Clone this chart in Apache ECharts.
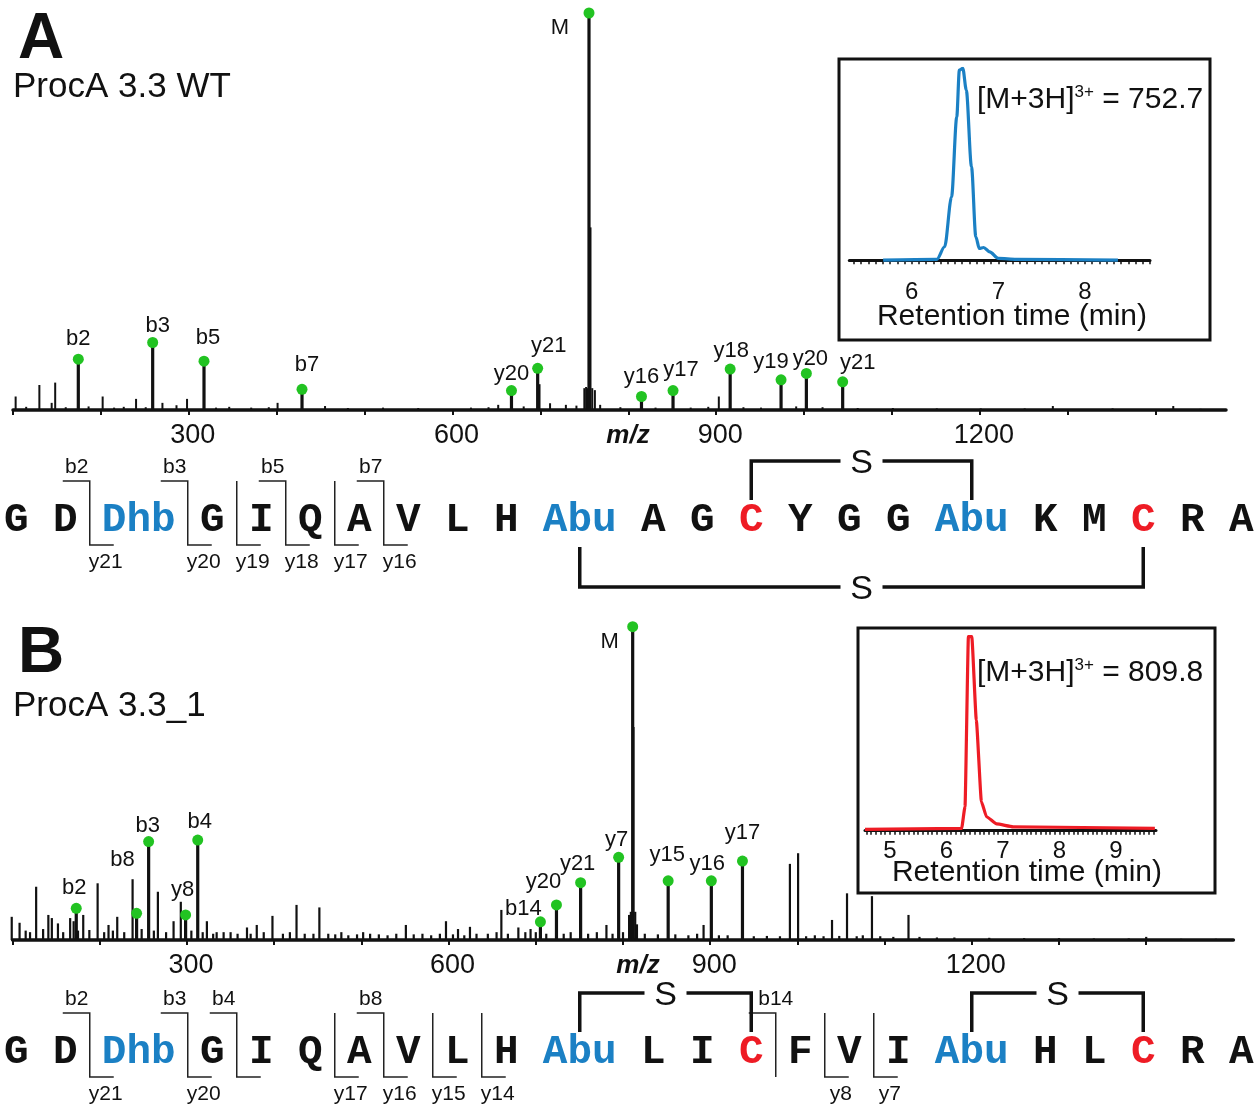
<!DOCTYPE html>
<html><head><meta charset="utf-8">
<script src="https://cdn.jsdelivr.net/npm/echarts@6/dist/echarts.min.js"></script>
<style>html,body{margin:0;padding:0;background:#fff}#c{width:1260px;height:1112px}</style>
</head><body><div id="c"></div>
<script>
// ================= DATA =================
const mzTickValues = [100,200,300,400,500,600,700,800,900,1000,1100,1200,1300,1400];
const mzTickLabels = [300,600,900,1200];

// Panel A (ProcA 3.3 WT) annotated peaks
const peakLabelsA = ['b2','b3','b5','b7','y20','y21','M','y16','y17','y18','y19','y20','y21'];
const peakMzA     = [174.3,258.9,317.3,428.8,667.1,696.9,755.3,815.0,850.9,915.9,973.8,1002.6,1043.9];
const peakIntA    = [12.8,17.0,12.3,5.2,4.9,10.5,100,3.4,4.9,10.3,7.6,9.2,7.1];
// Panel A other (unlabelled) peaks [m/z, relative intensity]
const minorPeaksA = [[103,3.4],[115,0.8],[130,6.3],[144,1.8],[148,6.9],[160,0.7],[186,0.9],[202,3.4],[215,0.6],
  [226,0.8],[240,2.8],[251,0.7],[270,1.8],[286,1.2],[298,2.8],[331,0.6],[346,0.8],[371,0.6],[391,0.7],[401,1.8],
  [455,1.0],[481,0.5],[521,0.6],[561,0.5],[621,0.6],[641,0.7],[652,1.3],[681,0.9],[699,6.5],[711,1.7],[729,1.3],[741,1.1],
  [750,5.5],[752,5.8],[754,5.5],[757,46],[759,5.5],[762,5.0],[768,1.3],[791,0.7],[831,0.6],[871,0.6],[891,0.8],
  [903,3.4],[931,0.7],[951,0.6],[991,0.9],[1021,0.7],[1061,0.5],[1101,0.5],[1151,0.4],[1201,0.4],[1251,0.4],
  [1283,1.0],[1351,0.4],[1420,1.0],[1451,0.3]];

// Panel B (ProcA 3.3_1) annotated peaks
const peakLabelsB = ['b2','b8','b3','y8','b4','b14','y20','y21','y7','M','y15','y16','y17'];
const peakMzB     = [173,242.2,256,298.4,312.3,705.3,723.7,751.4,795,811.1,851.8,901.3,937];
const peakIntB    = [10.1,8.5,31.4,8.0,31.9,5.8,11.2,18.3,26.4,100,18.9,18.9,25.2];
const minorPeaksB = [[99,7.4],[108,5.5],[115,3],[120,2.5],[127,17],[135,3.5],[141,8],[145,7],[152,5.3],[158,2.5],
  [166,7],[170,6],[175,3],[181,8],[188,3.2],[197.5,18.1],[205,2.5],[210,4.8],[215,3],[220,7.4],[228,2.5],[237.6,19.4],
  [248,3.5],[262,3],[266.6,15.4],[276,2.5],[284.6,6],[292.9,12.2],[305,3],[318,2.5],[322.8,6],[330,2],[334,2.5],[342,2.5],
  [350,2.5],[358,2],[368.8,4],[373,2],[380,4.8],[388,2.5],[398,7.7],[410,2],[418,2.5],[425.6,11.2],[435,2],[445,2],
  [451.8,10.4],[462,2],[470,1.8],[477,2.5],[485,1.5],[495,1.8],[502,2.5],[510,2],[520,1.8],[530,1.5],[540,2],[551,4.8],
  [560,1.8],[570,2],[580,1.5],[590,2],[597,6],[605,1.8],[610.8,3.5],[618,1.5],[624.5,4.2],[632,2],[645,2],[655,2.5],
  [660.5,9.6],[668,2],[680,4],[688,2.5],[694,3.5],[700,2.5],[712,2],[732,2],[740,2.5],[760,2],[770,2.5],[781,4.8],
  [788,2],[800,2.5],[807,8],[809,9],[812,68],[814,9],[816,5],[825,2],[840,1.8],[860,1.8],[875,1.5],[885,2],[892.4,4.8],
  [910,1.5],[920,1.5],[950,1.2],[965,1.3],[980,1.2],[991.4,24.3],[1000.8,27.7],[1010,1.2],[1020,1.5],[1030,1.2],
  [1039.7,6.4],[1048,1.3],[1056.9,14.9],[1068,1.2],[1075,1.5],[1085.5,14],[1095,1.2],[1110,1],[1127.4,8],[1140,1],
  [1160,0.8],[1180,0.8],[1220,0.7],[1260,0.6],[1300,0.6],[1340,0.5],[1380,0.5],[1400,1.0],[1440,0.4],[1480,0.4]];

// Insets: extracted ion chromatograms
const rtA = [5.67,6.29,6.38,6.46,6.52,6.55,6.59,6.63,6.69,6.74,6.78,6.83,6.90,7.00,7.21,8.38];
const eicA = [0,0.4,7,33,74.7,99,100,88.7,48.7,12.2,6.1,6.6,4.3,0.9,0.4,0];
const rtTickLabelsA = [6,7,8];
const rtB = [4.56,6.27,6.33,6.39,6.45,6.53,6.62,6.71,6.89,7.18,9.69];
const eicB = [0.7,1.2,12.4,100,100,57,15,7.2,3.5,2,1.2];
const rtTickLabelsB = [5,6,7,8,9];
const ionA = '752.7', ionB = '809.8';

// Peptide sequences and fragment annotations
const seqA = ['G','D','Dhb','G','I','Q','A','V','L','H','Abu','A','G','C','Y','G','G','Abu','K','M','C','R','A'];
const seqB = ['G','D','Dhb','G','I','Q','A','V','L','H','Abu','L','I','C','F','V','I','Abu','H','L','C','R','A'];
const fragsA = [{after:2,b:'b2',y:'y21'},{after:3,b:'b3',y:'y20'},{after:4,y:'y19'},{after:5,b:'b5',y:'y18'},
  {after:6,y:'y17'},{after:7,b:'b7',y:'y16'}];
const fragsB = [{after:2,b:'b2',y:'y21'},{after:3,b:'b3',y:'y20'},{after:4,b:'b4',y:'',arm:true},{after:6,y:'y17'},
  {after:7,b:'b8',y:'y16'},{after:8,y:'y15'},{after:9,y:'y14'},{after:14,b:'b14',noArm:true},{after:15,y:'y8'},{after:16,y:'y7'}];
const bridgesA = [{from:14,to:18,side:'top'},{from:11,to:21,side:'bottom'}];
const bridgesB = [{from:11,to:14,side:'top'},{from:18,to:21,side:'top'}];

// ================= STYLE / LAYOUT =================
const SANS = 'Liberation Sans', MONO = 'Liberation Mono';
const labelOffA = [[0,-20],[5,-17],[4,-23],[5,-24],[0,-17],[11,-22],[-29,15],[0,-20],[8,-21],[1,-18],[-10,-18],[4,-15],[15,-19]];
const labelOffB = [[-2,-20],[-14,-53],[-1,-16],[-3,-25],[2,-18],[-17,-13],[-13,-23],[-3,-19],[-2,-17],[-23,15],[-1,-26],[-4,-17],[0,-28]];
const bLabelShift = {b14: 0};
const X0 = 4, CW = 24.5, ROW_A = 521, ROW_B = 1053;
const GREEN = '#22c322', BLUE = '#1b80c4', RED = '#ee1c25';

const chart = echarts.init(document.getElementById('c'), null, {renderer:'canvas'});

function stickSeries(ax, pairs, width, z) {
  return {
    type:'custom', xAxisIndex:ax, yAxisIndex:ax, data:pairs, silent:true, z:z||2,
    renderItem:function(params, api){
      const p0 = api.coord([api.value(0), 0]);
      const p1 = api.coord([api.value(0), api.value(1)]);
      return {type:'line', shape:{x1:p0[0],y1:p0[1],x2:p1[0],y2:p1[1]}, style:{stroke:'#111', lineWidth:width}};
    }
  };
}
function dotSeries(ax, mz, inten, labels, offs) {
  return {
    type:'scatter', xAxisIndex:ax, yAxisIndex:ax, symbolSize:11, z:6, silent:true,
    itemStyle:{color:GREEN, opacity:1},
    data: mz.map((m,i)=>({value:[m, inten[i]], name:labels[i], label:{offset:offs[i]}})),
    label:{show:true, position:'inside', formatter:'{b}', fontSize:22, fontFamily:SANS, color:'#111',
      textBorderWidth:0, textBorderColor:'transparent', textShadowBlur:0}
  };
}
function mzAxis(gi, max) {
  return {gridIndex:gi, type:'value', min:100, max:max, splitLine:{show:false},
    axisLine:{lineStyle:{color:'#111', width:3.5}},
    axisTick:{show:true, customValues:mzTickValues, length:5, lineStyle:{color:'#111', width:2}},
    axisLabel:{customValues:mzTickLabels, formatter:v=>String(v), fontSize:27, fontFamily:SANS, color:'#111', margin:12,
      padding:[0,0,0,8]}};
}
function rtTicks(min, max) { const t=[]; for (let k=Math.ceil(min*12); k<=Math.floor(max*12); k++) t.push(k/12); return t; }
function rtAxis(gi, min, max, labels) {
  return {gridIndex:gi, type:'value', min:min, max:max, z:20, splitLine:{show:false},
    axisLine:{lineStyle:{color:'#111', width:3}},
    axisTick:{show:true, customValues:rtTicks(min,max), length:4, lineStyle:{color:'#111', width:1.5}},
    axisLabel:{customValues:labels, formatter:v=>String(v), fontSize:24, fontFamily:SANS, color:'#111', margin:9}};
}
function hiddenY(gi, min, max) { return {gridIndex:gi, type:'value', min:min, max:max, show:false}; }

// graphics
const G = [];
function txt(x, y, text, font, fill, align) {
  G.push({type:'text', x:x, y:y, z:30, silent:true, style:{text:text, font:font, fill:fill||'#111',
    textAlign:align||'center', align:align||'center', textVerticalAlign:'middle', verticalAlign:'middle'}});
}
function poly(points, w, color) {
  G.push({type:'polyline', z:30, silent:true, shape:{points:points}, style:{stroke:color||'#111', lineWidth:w, fill:null}});
}
function resColor(r) { return (r==='Dhb'||r==='Abu') ? BLUE : (r==='C' ? RED : '#111'); }
function drawRow(seq, c, frags, bridges) {
  const starts = []; let s = 0;
  seq.forEach(r => { starts.push(s); s += r.length + 1; });
  const cx = i => X0 + (starts[i] + seq[i].length/2) * CW;
  seq.forEach((r,i) => txt(cx(i), c, r, 'bold 41px ' + MONO, resColor(r)));
  frags.forEach(f => {
    const k = f.after - 1;
    const v = X0 + (starts[k] + seq[k].length + 0.5) * CW;
    const top = c - 40, bot = c + 24;
    const pts = [];
    if (f.b) pts.push([v-27, top]);
    pts.push([v, top]); pts.push([v, bot]);
    if (!f.noArm && (f.y || f.arm)) pts.push([v+24, bot]);
    poly(pts, 1.5, '#222');
    if (f.b) txt(v + (f.b in bLabelShift ? bLabelShift[f.b] : -13), c - 54, f.b, '21px ' + SANS, '#111');
    if (f.y) txt(v + 16, c + 41, f.y, '21px ' + SANS, '#111');
  });
  bridges.forEach(b => {
    const x1 = cx(b.from-1), x2 = cx(b.to-1), mid = (x1+x2)/2;
    const ly = b.side === 'top' ? c - 60 : c + 66;
    const ey = b.side === 'top' ? c - 21 : c + 26;
    poly([[x1,ey],[x1,ly],[mid-21,ly]], 3.5);
    poly([[mid+21,ly],[x2,ly],[x2,ey]], 3.5);
    txt(mid, ly + 3, 'S', '34px ' + SANS);
  });
}
drawRow(seqA, ROW_A, fragsA, bridgesA);
drawRow(seqB, ROW_B, fragsB, bridgesB);

// panel titles
txt(41, 40, 'A', 'bold 64px ' + SANS);
txt(13, 87, 'ProcA 3.3 WT', '35px ' + SANS, '#111', 'left');
txt(41, 654, 'B', 'bold 64px ' + SANS);
txt(13, 706, 'ProcA 3.3_1', '35px ' + SANS, '#111', 'left');
txt(628, 436, 'm/z', 'italic bold 26px ' + SANS);
txt(638, 966, 'm/z', 'italic bold 26px ' + SANS);

// inset boxes
G.push({type:'rect', z:10, silent:true, shape:{x:839, y:59, width:371, height:281}, style:{fill:'#fff', stroke:'#111', lineWidth:3}});
G.push({type:'rect', z:10, silent:true, shape:{x:858, y:628, width:357, height:265}, style:{fill:'#fff', stroke:'#111', lineWidth:3}});
txt(1012, 317, 'Retention time (min)', '30px ' + SANS);
txt(1027, 873, 'Retention time (min)', '30px ' + SANS);
function ionLabel(x, y, val) {
  G.push({type:'text', x:x, y:y, z:30, silent:true, style:{
    text:'{a|[M+3H]}{s|3+}{a| = ' + val + '}', textAlign:'left', align:'left', textVerticalAlign:'middle', verticalAlign:'middle',
    rich:{a:{fontSize:30, fontFamily:SANS, fill:'#111', lineHeight:32}, s:{fontSize:17, fontFamily:SANS, fill:'#111', verticalAlign:'top', lineHeight:20}}}});
}
ionLabel(977, 100, ionA);
ionLabel(977, 673, ionB);

const option = {
  animation:false,
  backgroundColor:'#fff',
  grid:[
    {left:13, width:1213, top:13, height:397},
    {left:12.6, width:1220.8, top:626.7, height:313.3},
    {left:849.3, width:300.7, top:68.3, height:203.4, z:20},
    {left:865, width:291, top:636.7, height:194, z:20}
  ],
  xAxis:[mzAxis(0,1480), mzAxis(1,1500), rtAxis(2,5.28,8.75,rtTickLabelsA), rtAxis(3,4.56,9.71,rtTickLabelsB)],
  yAxis:[hiddenY(0,0,100), hiddenY(1,0,100), hiddenY(2,-6,100), hiddenY(3,0,100)],
  series:[
    stickSeries(0, minorPeaksA, 2),
    stickSeries(0, peakMzA.map((m,i)=>[m, peakIntA[i]]), 3.2),
    dotSeries(0, peakMzA, peakIntA, peakLabelsA, labelOffA),
    stickSeries(1, minorPeaksB, 2.2),
    stickSeries(1, peakMzB.map((m,i)=>[m, peakIntB[i]]), 3.2),
    dotSeries(1, peakMzB, peakIntB, peakLabelsB, labelOffB),
    {type:'line', xAxisIndex:2, yAxisIndex:2, z:20, data:rtA.map((t,i)=>[t, eicA[i]]), showSymbol:false,
      smooth:0.3, smoothMonotone:'x', lineStyle:{color:BLUE, width:3.2}, silent:true},
    {type:'line', xAxisIndex:3, yAxisIndex:3, z:20, data:rtB.map((t,i)=>[t, eicB[i]]), showSymbol:false,
      smooth:0.15, smoothMonotone:'x', lineStyle:{color:RED, width:3.2}, silent:true}
  ],
  graphic:{elements:G}
};
chart.setOption(option);
</script></body></html>
